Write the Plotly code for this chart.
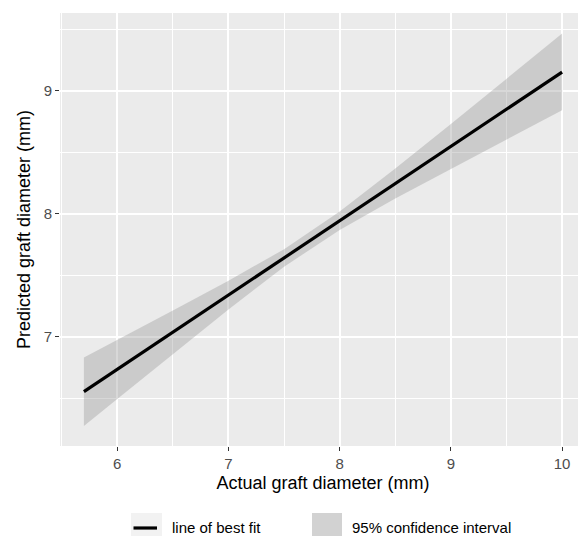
import plotly.graph_objects as go

# ---- data ----
fit_x = [5.7, 10.0]
fit_y = [6.553, 9.153]

band_x = [5.7, 6.0, 6.5, 7.0, 7.5, 8.0, 8.5, 9.0, 9.5, 10.0]
band_upper = [6.832, 6.974, 7.213, 7.456, 7.712, 8.018, 8.369, 8.731, 9.097, 9.467]
band_lower = [6.274, 6.494, 6.861, 7.222, 7.570, 7.868, 8.124, 8.365, 8.604, 8.843]

x_ticks = [6, 7, 8, 9, 10]
y_ticks = [7, 8, 9]
x_title = "Actual graft diameter (mm)"
y_title = "Predicted graft diameter (mm)"
legend_labels = ["line of best fit", "95% confidence interval"]

# ---- figure geometry (page has an 8px body margin) ----
OFF = 8
W, H = 586 - OFF, 536 - OFF
ML, MR, MT, MB = 60 - OFF, 0, 13 - OFF, 536 - 446
PW, PH = W - ML - MR, H - MT - MB

def px_x(px):
    return (px - OFF - ML) / PW

def px_y(py):
    return (H - MB - (py - OFF)) / PH

fig = go.Figure()

fig.add_trace(go.Scatter(
    x=band_x + band_x[::-1],
    y=band_upper + band_lower[::-1],
    fill="toself",
    fillcolor="rgba(153,153,153,0.38)",
    line=dict(width=0),
    mode="lines",
    hoverinfo="skip",
    showlegend=False,
))

fig.add_trace(go.Scatter(
    x=fit_x, y=fit_y, mode="lines",
    line=dict(color="black", width=3.2),
    showlegend=False,
))

font_family = "Liberation Sans, Arial, sans-serif"

axis_common = dict(
    showgrid=True, gridcolor="white", gridwidth=1.6,
    zeroline=False, showline=False,
    ticks="outside", ticklen=4, tickwidth=1.3, tickcolor="#333333",
    tickfont=dict(family=font_family, size=15, color="#4D4D4D"),
    minor=dict(showgrid=True, gridcolor="white", gridwidth=0.8, ticks=""),
)

fig.update_xaxes(
    range=[5.485, 10.215], tickvals=x_ticks,
    ticktext=[str(v) for v in x_ticks],
    minor_dtick=0.5, minor_tick0=5.5,
    title=dict(text=x_title, font=dict(family=font_family, size=18, color="black"), standoff=5),
    **axis_common,
)
fig.update_yaxes(
    range=[6.111, 9.634], tickvals=y_ticks,
    ticktext=[str(v) for v in y_ticks],
    minor_dtick=0.5, minor_tick0=6.5,
    title=dict(text=y_title, font=dict(family=font_family, size=18, color="black"), standoff=8),
    **axis_common,
)

# ---- custom ggplot-style legend ----
shapes = []
shapes.append(dict(type="rect", xref="paper", yref="paper",
                   x0=px_x(131), x1=px_x(162), y0=px_y(543), y1=px_y(513),
                   fillcolor="#F2F2F2", line=dict(width=0), layer="above"))
shapes.append(dict(type="line", xref="paper", yref="paper",
                   x0=px_x(133.5), x1=px_x(157), y0=px_y(528), y1=px_y(528),
                   line=dict(color="black", width=3.2), layer="above"))
shapes.append(dict(type="rect", xref="paper", yref="paper",
                   x0=px_x(312), x1=px_x(342), y0=px_y(543), y1=px_y(513),
                   fillcolor="#D2D2D2", line=dict(width=0), layer="above"))

annotations = [
    dict(text=legend_labels[0], xref="paper", yref="paper", x=px_x(170), y=px_y(527),
         xanchor="left", yanchor="middle", showarrow=False,
         font=dict(family=font_family, size=15, color="black")),
    dict(text=legend_labels[1], xref="paper", yref="paper", x=px_x(350), y=px_y(527),
         xanchor="left", yanchor="middle", showarrow=False,
         font=dict(family=font_family, size=15, color="black")),
]

fig.update_layout(
    width=W, height=H,
    margin=dict(l=ML, r=MR, t=MT, b=MB),
    plot_bgcolor="#EBEBEB", paper_bgcolor="white",
    shapes=shapes, annotations=annotations,
    showlegend=False,
    font=dict(family=font_family),
)

fig.write_html("out.html")
